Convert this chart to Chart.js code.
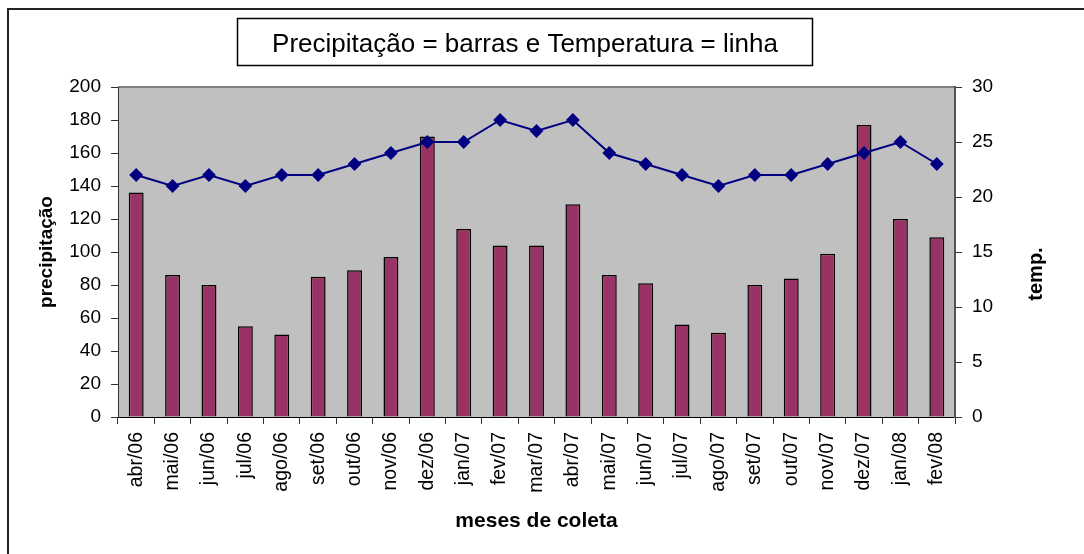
<!DOCTYPE html>
<html>
<head>
<meta charset="utf-8">
<script src="https://cdn.jsdelivr.net/npm/chart.js@4/dist/chart.umd.min.js"></script>
<style>
  body { margin: 0; background: #fff; }
  #wrap { width: 1084px; height: 554px; }
</style>
</head>
<body>
<div id="wrap"><canvas id="myChart" width="1084" height="554"></canvas></div>
<script>
// months of collection
const meses = ["abr/06", "mai/06", "jun/06", "jul/06", "ago/06", "set/06", "out/06", "nov/06",
    "dez/06", "jan/07", "fev/07", "mar/07", "abr/07", "mai/07", "jun/07", "jul/07", "ago/07",
    "set/07", "out/07", "nov/07", "dez/07", "jan/08", "fev/08"];

// precipitation (bars, left axis)
const precipitacao = [136, 86, 80, 55, 50, 85, 89, 97, 170, 114, 104, 104, 129, 86, 81, 56, 51, 80, 84, 99, 177, 120, 109];

// temperature (line, right axis)
const temperatura = [22, 21, 22, 21, 22, 22, 23, 24, 25, 25, 27, 26, 27, 24, 23, 22, 21, 22, 22, 23, 24, 25, 23];

const titulo = 'Precipitação = barras e Temperatura = linha';
const fonte = "'Liberation Sans', Arial, sans-serif";

// grey plot background, frame, boxed title and right axis title
const moldura = {
    id: 'moldura',
    beforeDraw(chart) {
        const { ctx, chartArea } = chart;
        ctx.save();
        ctx.fillStyle = '#C0C0C0';
        ctx.fillRect(chartArea.left, chartArea.top, chartArea.right - chartArea.left, chartArea.bottom - chartArea.top);
        ctx.strokeStyle = '#808080';
        ctx.lineWidth = 2;
        ctx.beginPath();
        ctx.moveTo(chartArea.left, chartArea.top);
        ctx.lineTo(chartArea.right, chartArea.top);
        ctx.stroke();

        // outer frame (only top and left visible)
        ctx.strokeStyle = '#222';
        ctx.lineWidth = 2;
        ctx.beginPath();
        ctx.moveTo(8, 554);
        ctx.lineTo(8, 9);
        ctx.lineTo(1084, 9);
        ctx.stroke();

        // title in a box
        ctx.lineWidth = 1.5;
        ctx.strokeStyle = '#000';
        ctx.strokeRect(237.5, 18.5, 575, 47);
        ctx.fillStyle = '#000';
        ctx.font = '26px ' + fonte;
        ctx.textAlign = 'center';
        ctx.textBaseline = 'alphabetic';
        ctx.fillText(titulo, 525, 52);

        // right axis title, reading upwards
        ctx.translate(1036, 274);
        ctx.rotate(-Math.PI / 2);
        ctx.font = 'bold 20px ' + fonte;
        ctx.textBaseline = 'middle';
        ctx.fillText('temp.', 0, 0);
        ctx.restore();
    }
};

const ctx = document.getElementById("myChart").getContext("2d");

new Chart(ctx, {
    type: 'bar',
    data: {
        labels: meses,
        datasets: [{
            type: 'line',
            label: 'temp.',
            data: temperatura,
            yAxisID: 'y1',
            order: 0,
            borderColor: '#000080',
            borderWidth: 2,
            pointStyle: 'rectRot',
            pointRadius: 5.5,
            pointBackgroundColor: '#000080',
            pointBorderColor: '#000080',
            tension: 0
        }, {
            type: 'bar',
            label: 'precipitação',
            data: precipitacao,
            yAxisID: 'y',
            order: 1,
            backgroundColor: '#993366',
            borderColor: '#000',
            borderWidth: 1.5,
            categoryPercentage: 1,
            barPercentage: 0.41
        }]
    },
    options: {
        responsive: false,
        animation: false,
        layout: { padding: { top: 87, left: 0, right: 0, bottom: 0 } },
        plugins: {
            legend: { display: false },
            tooltip: { enabled: false },
            title: { display: false }
        },
        scales: {
            x: {
                grid: { offset: true, drawOnChartArea: false, tickLength: 7, color: '#333' },
                border: { color: '#000', width: 1 },
                ticks: {
                    color: '#000',
                    font: { family: fonte, size: 19.5 },
                    maxRotation: 90,
                    minRotation: 90,
                    autoSkip: false,
                    padding: 8
                },
                title: {
                    display: true,
                    text: 'meses de coleta',
                    color: '#000',
                    font: { family: fonte, size: 21, weight: 'bold' },
                    padding: { top: 0, bottom: 20 }
                },
                afterFit(scale) { scale.height = 137; }
            },
            y: {
                position: 'left',
                min: 0,
                max: 200,
                ticks: { stepSize: 20, color: '#000', font: { family: fonte, size: 19 }, padding: 10 },
                grid: { drawOnChartArea: false, tickLength: 7, color: '#333' },
                border: { color: '#333', width: 1 },
                title: {
                    display: true,
                    text: 'precipitação',
                    color: '#000',
                    font: { family: fonte, size: 19, weight: 'bold' },
                    padding: { top: 35, bottom: 0 }
                },
                afterFit(scale) { scale.width = 118; }
            },
            y1: {
                position: 'right',
                min: 0,
                max: 30,
                ticks: { stepSize: 5, color: '#000', font: { family: fonte, size: 19 }, padding: 10 },
                grid: { drawOnChartArea: false, tickLength: 7, color: '#333' },
                border: { color: '#555', width: 2 },
                afterFit(scale) { scale.width = 129; }
            }
        }
    },
    plugins: [moldura]
});
</script>
</body>
</html>
